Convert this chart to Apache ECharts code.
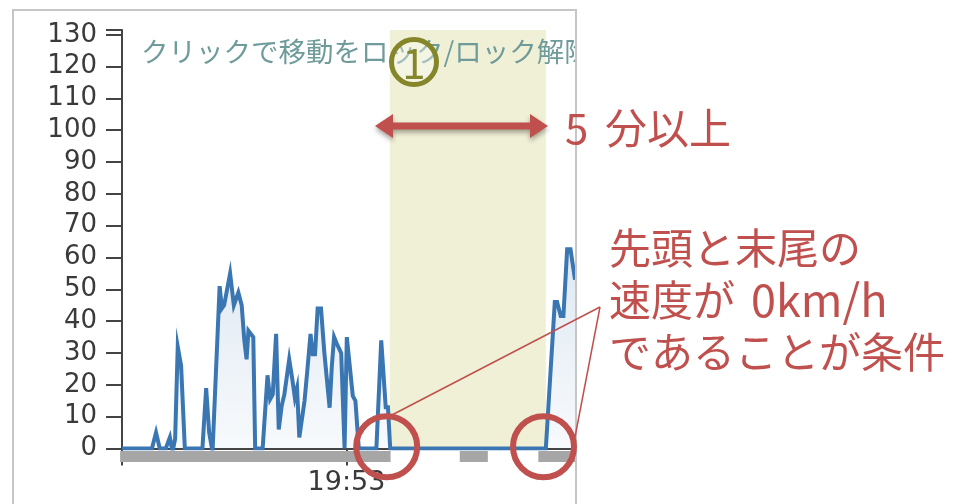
<!DOCTYPE html>
<html><head><meta charset="utf-8">
<script src="https://cdn.jsdelivr.net/npm/echarts@6/dist/echarts.min.js"></script>
<style>html,body{margin:0;padding:0;background:#fff}#c{width:953px;height:504px}</style>
</head><body><div id="c"></div>
<script>
// time in seconds from 19:52:00
const times = [0,8.0,9.1,10.1,11.7,12.8,13.5,14.2,14.9,15.8,16.8,21.5,22.5,23.3,24.2,26.1,26.7,27.3,28.9,29.9,31.1,32.0,32.7,33.3,33.8,35.1,35.6,37.6,38.9,39.6,40.3,41.2,41.9,42.7,43.4,44.7,45.5,46.2,46.8,47.4,48.8,49.5,50.4,51.0,51.6,52.3,53.2,54.1,55.5,56.1,56.7,57.4,58.6,59.5,60.1,60.6,61.7,62.4,63.3,68.0,69.3,70.5,71.1,71.7,90.3,97.8,112.5,113.3,115.7,116.3,117.3,118.0,119.0,119.9,121.1];
const speeds = [0,0,5,0,0,3.5,-1,3,32,26,0,0,19,5,-1,51,44,45,55,45,49,45,34,28,37,35,0,0,23,15.5,17,36,6,13.5,17,28,22,16,19,3.5,15,24,36,29.6,29.6,44,44,30,12.8,26,35,33,30,0,35,35,16.5,15,0,0,34,13,13,0,0,0,0,0,46,46,41.6,41.6,62.6,62.6,53];
const rugSegments = [[-0.5,71.8],[90.3,97.8],[111.3,121.1]];
const lockRange = [71.6, 113.3];
const xTickValues = [0, 60];
const xLabelValues = [60];
const xLabelTexts = ['19:53'];
const titleText = 'クリックで移動をロック/ロック解除';
const noteLine1 = '先頭と末尾の';
const noteLine2a = '速度が';
const noteLine2b = '0km/h';
const noteLine3 = 'であることが条件';
const durationNum = '5';
const durationUnit = '分以上';

const lineData = times.map((t, i) => [t, speeds[i]]);
const red = '#c0504d';
const jp = '"Noto Sans CJK JP"';
const chart = echarts.init(document.getElementById('c'), null, {renderer: 'canvas'});
chart.setOption({
  animation: false,
  grid: {left: 122, right: 378, top: 30, bottom: 55.5},
  title: {
    text: titleText, left: 136, top: 33,
    textStyle: {fontFamily: 'Noto Sans CJK JP', fontSize: 27.5, fontWeight: 'normal', color: '#6f9b9b'}
  },
  xAxis: {
    type: 'value', min: 0, max: 121.1,
    splitLine: {show: false},
    axisLine: {lineStyle: {color: '#444', width: 2}},
    axisTick: {customValues: xTickValues, length: 17, lineStyle: {color: '#444', width: 2}},
    axisLabel: {customValues: xLabelValues, margin: 21, fontFamily: 'DejaVu Sans', fontSize: 27, color: '#3a3a3a',
      formatter: v => { const i = xLabelValues.indexOf(v); return i >= 0 ? xLabelTexts[i] : ''; }}
  },
  yAxis: {
    type: 'value', min: 0, max: 131.5, interval: 10,
    splitLine: {show: false},
    axisLine: {show: true, lineStyle: {color: '#444', width: 2}},
    axisTick: {show: true, length: 16, lineStyle: {color: '#444', width: 2}},
    axisLabel: {margin: 25, fontFamily: 'DejaVu Sans', fontSize: 26, color: '#3a3a3a',
      formatter: v => (v % 10 === 0 ? String(v) : '')}
  },
  series: [
    {
      type: 'line', data: [], z: 1, silent: true,
      markArea: {silent: true, itemStyle: {color: '#f0f0d6'},
        data: [[{xAxis: lockRange[0], yAxis: 0}, {xAxis: lockRange[1], yAxis: 131.5}]]}
    },
    {
      type: 'line', data: lineData, z: 3, showSymbol: false, smooth: false,
      lineStyle: {color: '#3a76b2', width: 4, join: 'miter'},
      areaStyle: {color: new echarts.graphic.LinearGradient(0, 0, 0, 1, [
        {offset: 0, color: 'rgba(58,118,178,0.24)'}, {offset: 1, color: 'rgba(58,118,178,0.05)'}])}
    },
    {
      type: 'custom', z: 4, clip: false, silent: true,
      data: rugSegments,
      encode: {x: [0, 1]},
      renderItem: (params, api) => {
        const p0 = api.coord([api.value(0), 0]);
        const p1 = api.coord([api.value(1), 0]);
        return {type: 'rect', shape: {x: p0[0], y: p0[1] + 2.5, width: p1[0] - p0[0], height: 11},
          style: {fill: '#a6a6a6'}};
      }
    }
  ],
  graphic: [
    {type: 'rect', z: 99, shape: {x: 576, y: 25, width: 377, height: 55}, style: {fill: '#fff'}},
    {type: 'rect', z: 100, shape: {x: 13, y: 10, width: 563, height: 520}, style: {fill: null, stroke: '#c6c6c6', lineWidth: 2}},
    {type: 'circle', z: 101, shape: {cx: 414, cy: 62, r: 22.5}, style: {fill: 'rgba(255,255,255,0.35)', stroke: '#85852a', lineWidth: 5}},
    {type: 'text', z: 102, x: 414, y: 63, style: {text: '1', fill: '#85852a', font: '42px ' + jp, align: 'center', verticalAlign: 'middle'}},
    {type: 'polygon', z: 101, shape: {points: [[375,126],[393,114],[393,122.5],[530,122.5],[530,114],[548,126],[530,138],[530,129.5],[393,129.5],[393,138]]},
      style: {fill: red, shadowBlur: 5, shadowColor: 'rgba(0,0,0,0.35)', shadowOffsetY: 3}},
    {type: 'text', z: 101, x: 565, y: 128, style: {text: durationNum, fill: red, font: '42px ' + jp, verticalAlign: 'middle'}},
    {type: 'text', z: 101, x: 605, y: 128, style: {text: durationUnit, fill: red, font: '42px ' + jp, verticalAlign: 'middle'}},
    {type: 'line', z: 101, shape: {x1: 600, y1: 307, x2: 390, y2: 416}, style: {stroke: red, lineWidth: 1.5}},
    {type: 'line', z: 101, shape: {x1: 600, y1: 307, x2: 575, y2: 437}, style: {stroke: red, lineWidth: 1.5}},
    {type: 'circle', z: 101, shape: {cx: 386.7, cy: 446.7, r: 30.5}, style: {fill: null, stroke: red, lineWidth: 6}},
    {type: 'circle', z: 101, shape: {cx: 543.5, cy: 446.7, r: 30.5}, style: {fill: null, stroke: red, lineWidth: 6}},
    {type: 'text', z: 101, x: 609, y: 248, style: {text: noteLine1, fill: red, font: '42px ' + jp, verticalAlign: 'middle'}},
    {type: 'text', z: 101, x: 609, y: 300, style: {text: noteLine2a, fill: red, font: '42px ' + jp, verticalAlign: 'middle'}},
    {type: 'text', z: 101, x: 751, y: 300, style: {text: noteLine2b, fill: red, font: '45px ' + jp, verticalAlign: 'middle'}},
    {type: 'text', z: 101, x: 609, y: 352, style: {text: noteLine3, fill: red, font: '42px ' + jp, verticalAlign: 'middle'}}
  ]
});
</script></body></html>
